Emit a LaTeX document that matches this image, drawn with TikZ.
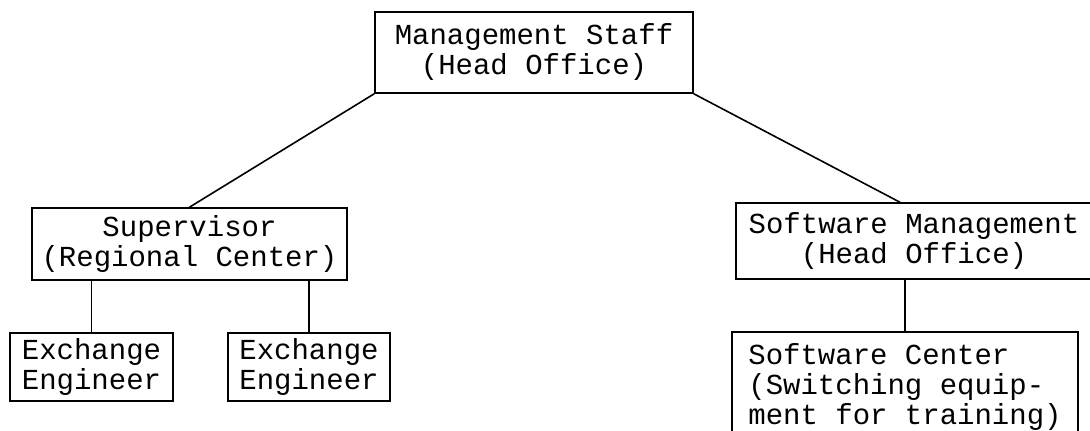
\documentclass[tikz,border=0pt]{standalone}
\usepackage{fontspec}
\setmonofont{Liberation Mono}
\begin{document}
\begin{tikzpicture}[x=1pt, y=-1pt,
        unit/.style={draw, line width=1.6pt, inner sep=0pt, align=center,
            font=\ttfamily\fontsize{29}{30}\selectfont}]
            \useasboundingbox (0,0) rectangle (1090,431);

            \node[unit, minimum width=318pt, minimum height=81pt] at (534, 52.5) (staff) {Management Staff\\(Head Office)};

            \node[unit, minimum width=315pt, minimum height=72pt] at (189.5, 244) (supervisor) {Supervisor\\(Regional Center)};
            \node[unit, minimum width=163pt, minimum height=68pt] at (91.5, 367) (eng1) {Exchange\\Engineer};
            \node[unit, minimum width=162pt, minimum height=68pt] at (309, 367) (eng2) {Exchange\\Engineer};

            \node[unit, minimum width=356pt, minimum height=76pt] at (914, 241) (swMgmt) {Software Management\\(Head Office)};
            \node[unit, align=left, minimum width=346pt, minimum height=110pt, anchor=north] at (905, 331) (swCenter) {Software Center\\(Switching equip-\\ment for training)};

            \draw[line width=1.6pt] (staff.south west) -- (supervisor.north);
            \draw[line width=1.6pt] (staff.south east) -- (swMgmt.110);
            \draw[line width=1.6pt] (eng1.north) -- (eng1.north |- supervisor.south);
            \draw[line width=1.6pt] (eng2.north) -- (eng2.north |- supervisor.south);
            \draw[line width=1.6pt] (swCenter.north) -- (swCenter.north |- swMgmt.south);
        \end{tikzpicture}
\end{document}
